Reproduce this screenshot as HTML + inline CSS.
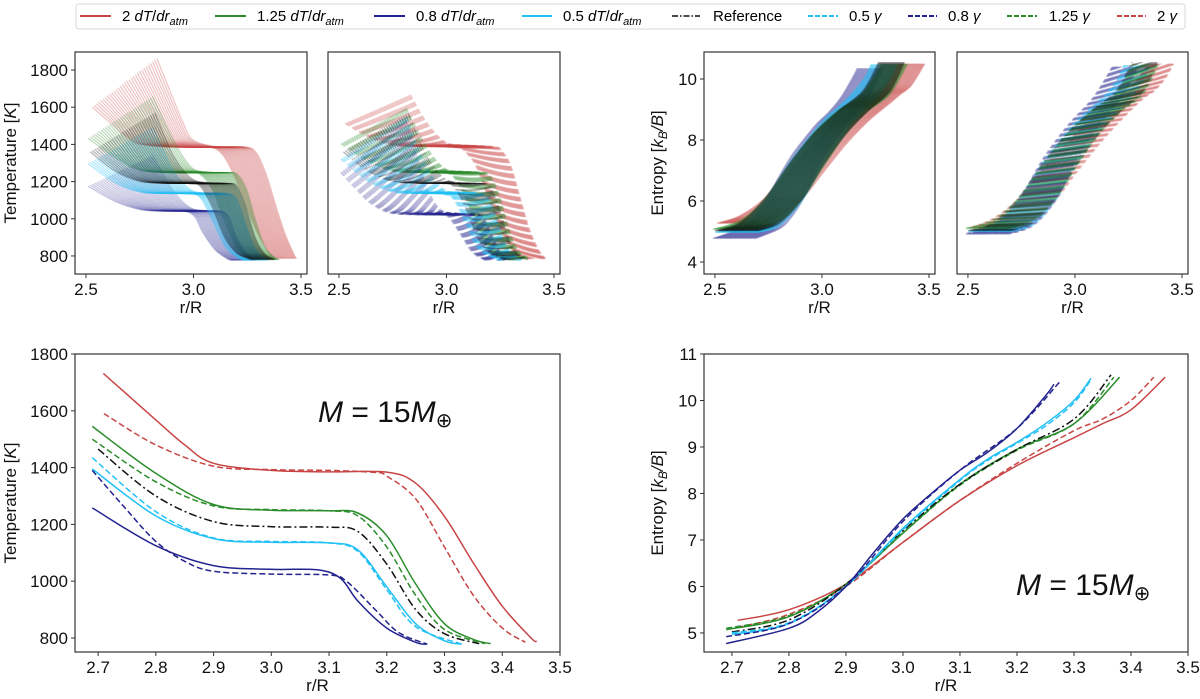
<!DOCTYPE html>
<html><head><meta charset="utf-8"><style>
html,body{margin:0;padding:0;background:#fff;}
svg{display:block;font-family:"Liberation Sans","DejaVu Sans",sans-serif;}
</style></head><body>
<svg id="fig" width="1200" height="699" viewBox="0 0 1200 699" xmlns="http://www.w3.org/2000/svg">
<g id="legend">
<rect x="76" y="4" width="1109" height="25" rx="3" fill="#fff" stroke="#d8d8d8"/>
<g><line x1="80" y1="16" x2="111" y2="16" stroke="#c94545" stroke-width="2"/><text x="122" y="21" font-size="15">2 <tspan font-style="italic">dT</tspan>/<tspan font-style="italic">dr</tspan><tspan font-size="11" font-style="italic" dy="4">atm</tspan></text></g>
<g><line x1="215" y1="16" x2="246" y2="16" stroke="#2a8c2a" stroke-width="2"/><text x="257" y="21" font-size="15">1.25 <tspan font-style="italic">dT</tspan>/<tspan font-style="italic">dr</tspan><tspan font-size="11" font-style="italic" dy="4">atm</tspan></text></g>
<g><line x1="374" y1="16" x2="405" y2="16" stroke="#23238f" stroke-width="2"/><text x="416" y="21" font-size="15">0.8 <tspan font-style="italic">dT</tspan>/<tspan font-style="italic">dr</tspan><tspan font-size="11" font-style="italic" dy="4">atm</tspan></text></g>
<g><line x1="522" y1="16" x2="552" y2="16" stroke="#22c0f5" stroke-width="2"/><text x="563" y="21" font-size="15">0.5 <tspan font-style="italic">dT</tspan>/<tspan font-style="italic">dr</tspan><tspan font-size="11" font-style="italic" dy="4">atm</tspan></text></g>
<g><line x1="672" y1="16" x2="700" y2="16" stroke="#111" stroke-width="1.5" stroke-dasharray="6,2,1.5,2"/><text x="713" y="21" font-size="15">Reference</text></g>
<g><line x1="808" y1="16" x2="838" y2="16" stroke="#22c0f5" stroke-width="2" stroke-dasharray="5,2"/><text x="849" y="21" font-size="15">0.5 <tspan font-style="italic">γ</tspan></text></g>
<g><line x1="908" y1="16" x2="937" y2="16" stroke="#23238f" stroke-width="2" stroke-dasharray="5,2"/><text x="948" y="21" font-size="15">0.8 <tspan font-style="italic">γ</tspan></text></g>
<g><line x1="1007" y1="16" x2="1037" y2="16" stroke="#2a8c2a" stroke-width="2" stroke-dasharray="5,2"/><text x="1049" y="21" font-size="15">1.25 <tspan font-style="italic">γ</tspan></text></g>
<g><line x1="1117" y1="16" x2="1146" y2="16" stroke="#c94545" stroke-width="2" stroke-dasharray="5,2"/><text x="1157" y="21" font-size="15">2 <tspan font-style="italic">γ</tspan></text></g>
</g>
</svg>
<script>
// ---- Temperature data (bottom-left panel, M = 15 M_earth) ----
const tRedSolidR   = [2.71,2.72,2.8,2.85,2.9,3.0,3.1,3.2,3.25,3.3,3.35,3.4,3.45,3.46];
const tRedSolidT   = [1730,1712,1568,1480,1415,1390,1385,1384,1345,1228,1064,912,800,788];
const tRedDashR    = [2.71,2.8,2.9,3.0,3.1,3.18,3.2,3.25,3.3,3.35,3.4,3.44];
const tRedDashT    = [1590,1480,1405,1393,1390,1383,1370,1290,1120,950,835,785];
const tGreenSolidR = [2.69,2.8,2.9,3.0,3.1,3.15,3.2,3.25,3.3,3.35,3.38];
const tGreenSolidT = [1545,1380,1270,1250,1248,1240,1160,990,850,795,780];
const tGreenDashR  = [2.69,2.8,2.9,3.0,3.1,3.15,3.2,3.25,3.3,3.37];
const tGreenDashT  = [1500,1350,1265,1252,1248,1230,1120,950,830,780];
const tRefR        = [2.7,2.8,2.9,3.0,3.1,3.15,3.2,3.25,3.3,3.36];
const tRefT        = [1465,1300,1210,1192,1190,1175,1060,900,815,780];
const tCyanSolidR  = [2.69,2.8,2.9,3.0,3.1,3.15,3.2,3.25,3.3,3.33];
const tCyanSolidT  = [1395,1230,1150,1137,1135,1110,980,850,790,778];
const tCyanDashR   = [2.69,2.8,2.9,3.0,3.1,3.15,3.2,3.25,3.33];
const tCyanDashT   = [1435,1245,1152,1140,1135,1105,970,840,778];
const tNavySolidR  = [2.69,2.8,2.9,3.0,3.08,3.12,3.15,3.2,3.25,3.27];
const tNavySolidT  = [1258,1125,1055,1042,1040,1010,930,835,785,778];
const tNavyDashR   = [2.69,2.75,2.8,2.85,2.9,3.0,3.1,3.13,3.18,3.22,3.27];
const tNavyDashT   = [1390,1250,1140,1070,1035,1025,1022,1000,900,820,778];
// ---- Entropy data (bottom-right panel) ----
const sNavySolidR  = [2.69,2.8,2.85,2.9,2.95,3.0,3.05,3.1,3.15,3.2,3.25,3.265];
const sNavySolidS  = [4.77,5.1,5.45,6.0,6.75,7.45,8.0,8.5,8.9,9.4,10.1,10.35];
const sNavyDashR   = [2.69,2.8,2.9,3.0,3.1,3.2,3.275];
const sNavyDashS   = [4.92,5.2,6.0,7.4,8.5,9.4,10.4];
const sCyanSolidR  = [2.7,2.8,2.9,3.0,3.1,3.15,3.2,3.25,3.3,3.33];
const sCyanSolidS  = [4.97,5.2,6.0,7.25,8.3,8.75,9.1,9.5,10.0,10.48];
const sCyanDashR   = [2.7,2.8,2.9,3.0,3.1,3.15,3.2,3.25,3.3,3.33];
const sCyanDashS   = [5.0,5.22,6.0,7.22,8.28,8.72,9.08,9.45,9.95,10.45];
const sRefR        = [2.7,2.8,2.9,3.0,3.1,3.2,3.3,3.365];
const sRefS        = [5.02,5.28,6.05,7.2,8.2,8.95,9.6,10.55];
const sGreenSolidR = [2.69,2.8,2.9,3.0,3.1,3.2,3.3,3.38];
const sGreenSolidS = [5.07,5.35,6.05,7.15,8.2,8.95,9.5,10.5];
const sGreenDashR  = [2.69,2.8,2.9,3.0,3.1,3.2,3.3,3.37];
const sGreenDashS  = [5.1,5.37,6.05,7.15,8.18,8.93,9.5,10.5];
const sRedSolidR   = [2.71,2.8,2.9,3.0,3.1,3.2,3.3,3.35,3.4,3.46];
const sRedSolidS   = [5.27,5.5,6.05,6.95,7.85,8.6,9.2,9.5,9.8,10.5];
const sRedDashR    = [2.71,2.8,2.9,3.0,3.1,3.2,3.3,3.35,3.4,3.44];
const sRedDashS    = [5.12,5.4,6.0,6.95,7.85,8.65,9.35,9.6,10.0,10.5];
// ---- Ticks ----
const topXTicks = [2.5,3.0,3.5];
const topTTicks = [800,1000,1200,1400,1600,1800];
const topSTicks = [4,6,8,10];
const botXTicks = [2.7,2.8,2.9,3.0,3.1,3.2,3.3,3.4,3.5];
const botTTicks = [800,1000,1200,1400,1600,1800];
const botSTicks = [5,6,7,8,9,10,11];
// ---- Ensemble spread (top panels): [first, last] member offsets ----
const ensCount = 31;
const tLeftShift  = [-0.18, 0.12];
const tRightShift = [-0.09, 0.02];
const tExcessScale = [0.62, 1.38];
const sLeftShift  = [-0.2, 0.0];
const sRightShift = [-0.1, 0.02];

const RED="#c94545",GREEN="#2a8c2a",NAVY="#23238f",CYAN="#22c0f5",BLACK="#111";
const NS="http://www.w3.org/2000/svg";
const svg=document.getElementById('fig');
function el(tag,attrs,parent){const e=document.createElementNS(NS,tag);for(const k in attrs)e.setAttribute(k,attrs[k]);(parent||svg).appendChild(e);return e;}
function fmt(v,d){return v.toFixed(d);}
function makeAxes(name,box,dom){
  const g=el('g',{});
  
  
  const sx=v=>box.x0+(v-dom.x0)/(dom.x1-dom.x0)*(box.x1-box.x0);
  const sy=v=>box.y1-(v-dom.y0)/(dom.y1-dom.y0)*(box.y1-box.y0);
  const id='clip'+name;
  const cp=el('clipPath',{id:id},g);el('rect',{x:box.x0,y:box.y0,width:box.x1-box.x0,height:box.y1-box.y0},cp);
  const plot=el('g',{'clip-path':'url(#'+id+')'},g);
  
  
  return {g,plot,sx,sy,box};
}
function frame(ax,xt,xd,yt,yd,xlabel,ylabel,fs){
  const g=ax.g,b=ax.box;
  const fr=el('rect',{x:b.x0,y:b.y0,width:b.x1-b.x0,height:b.y1-b.y0,fill:'none',stroke:'#333','stroke-width':1.2},g);
  
  
  xt.forEach(v=>{const x=ax.sx(v);el('line',{x1:x,x2:x,y1:b.y1,y2:b.y1+4,stroke:'#333'},g);
    const t=el('text',{x:x,y:b.y1+21,'font-size':fs,'text-anchor':'middle',fill:'#111'},g);t.textContent=fmt(v,xd);
    
    });
  if(yt)yt.forEach(v=>{const y=ax.sy(v);el('line',{x1:b.x0-4,x2:b.x0,y1:y,y2:y,stroke:'#333'},g);
    const t=el('text',{x:b.x0-7,y:y+6,'font-size':fs,'text-anchor':'end',fill:'#111'},g);t.textContent=fmt(v,yd);
    
    });
  const xl=el('text',{x:(b.x0+b.x1)/2,y:b.y1+39,'font-size':17,'text-anchor':'middle',fill:'#111'},g);xl.textContent=xlabel;
  
  
  if(ylabel){const yl=el('text',{transform:'translate('+ylabel.x+','+(b.y0+b.y1)/2+') rotate(-90)','font-size':17,'text-anchor':'middle',fill:'#111'},g);
    yl.innerHTML=ylabel.html;
    
    }
}
function pathD(ax,R,V,rf,tf){
  const pts=R.map((r,i)=>[ax.sx(rf?rf(r):r),ax.sy(tf?tf(V[i]):V[i])]);
  let d='M'+pts[0][0].toFixed(1)+','+pts[0][1].toFixed(1);
  for(let i=0;i<pts.length-1;i++){
    const p0=pts[Math.max(0,i-1)],p1=pts[i],p2=pts[i+1],p3=pts[Math.min(pts.length-1,i+2)];
    const c1=[p1[0]+(p2[0]-p0[0])/6,p1[1]+(p2[1]-p0[1])/6],c2=[p2[0]-(p3[0]-p1[0])/6,p2[1]-(p3[1]-p1[1])/6];
    d+='C'+c1[0].toFixed(1)+','+c1[1].toFixed(1)+' '+c2[0].toFixed(1)+','+c2[1].toFixed(1)+' '+p2[0].toFixed(1)+','+p2[1].toFixed(1);
  }
  return d;
}
function line(ax,name,R,V,color,dash,w,op,rf,tf){
  const p=el('path',{d:pathD(ax,R,V,rf,tf),fill:'none',stroke:color,'stroke-width':w||1.5,'stroke-opacity':op==null?1:op},ax.plot);
  if(dash)p.setAttribute('stroke-dasharray',dash);
  
  
  return p;
}
const DASH='6,3',DD='8,3,2,3';
const topDomX={x0:2.449,x1:3.528};
const ax1=makeAxes('temp-ensemble-dtdr',{x0:75,x1:307,y0:52,y1:274},{...topDomX,y0:703,y1:1897});
const ax2=makeAxes('temp-ensemble-gamma',{x0:328,x1:560,y0:52,y1:274},{...topDomX,y0:703,y1:1897});
const ax3=makeAxes('entropy-ensemble-dtdr',{x0:704,x1:935,y0:52,y1:274},{...topDomX,y0:3.607,y1:10.885});
const ax4=makeAxes('entropy-ensemble-gamma',{x0:957,x1:1188,y0:52,y1:274},{...topDomX,y0:3.607,y1:10.885});
function lerp(a,f){return a[0]+(a[1]-a[0])*f;}
function warp(R,dl,dr){const r0=R[0],r1=R[R.length-1];return r=>r+dl+(dr-dl)*(r-r0)/(r1-r0);}
function tEns(ax,name,R,T,plateau,color,dash,op,w){
  for(let k=0;k<ensCount;k++){const f=k/(ensCount-1);
    const s=lerp(tExcessScale,f);
    line(ax,name,R,T,color,dash,w,op,warp(R,lerp(tLeftShift,f),lerp(tRightShift,f)),v=>v>plateau?plateau+(v-plateau)*s:v);}
}
function sEns(ax,name,R,S,color,dash,op,w){
  for(let k=0;k<ensCount;k++){const f=k/(ensCount-1);
    line(ax,name,R,S,color,dash,w,op,warp(R,lerp(sLeftShift,f),lerp(sRightShift,f)));}
}
tEns(ax1,'ens-red',tRedSolidR,tRedSolidT,1385,RED,null,0.3,1.3);
tEns(ax1,'ens-green',tGreenSolidR,tGreenSolidT,1250,GREEN,null,0.3,1.3);
tEns(ax1,'ens-navy',tNavySolidR,tNavySolidT,1040,NAVY,null,0.25,1.3);
tEns(ax1,'ens-cyan',tCyanSolidR,tCyanSolidT,1135,CYAN,null,0.35,1.3);
tEns(ax1,'ens-reference',tRefR,tRefT,1190,BLACK,null,0.3,1.3);
tEns(ax2,'ens-red-gamma',tRedDashR,tRedDashT,1390,RED,'5,3',0.3,2.2);
tEns(ax2,'ens-green-gamma',tGreenDashR,tGreenDashT,1250,GREEN,'5,3',0.3,2.2);
tEns(ax2,'ens-navy-gamma',tNavyDashR,tNavyDashT,1022,NAVY,'5,3',0.25,2.2);
tEns(ax2,'ens-cyan-gamma',tCyanDashR,tCyanDashT,1138,CYAN,'5,3',0.3,2.2);
tEns(ax2,'ens-reference',tRefR,tRefT,1190,BLACK,DD,0.3,1.3);
sEns(ax3,'ens-red',sRedSolidR,sRedSolidS,RED,null,0.35,1.5);
sEns(ax3,'ens-navy',sNavySolidR,sNavySolidS,NAVY,null,0.3,1.5);
sEns(ax3,'ens-cyan',sCyanSolidR,sCyanSolidS,CYAN,null,0.4,1.5);
sEns(ax3,'ens-green',sGreenSolidR,sGreenSolidS,GREEN,null,0.35,1.5);
sEns(ax3,'ens-reference',sRefR,sRefS,BLACK,null,0.35,1.5);
sEns(ax4,'ens-red-gamma',sRedDashR,sRedDashS,RED,'4,3',0.3,2);
sEns(ax4,'ens-navy-gamma',sNavyDashR,sNavyDashS,NAVY,'4,3',0.3,2);
sEns(ax4,'ens-cyan-gamma',sCyanDashR,sCyanDashS,CYAN,'4,3',0.35,2);
sEns(ax4,'ens-green-gamma',sGreenDashR,sGreenDashS,GREEN,'4,3',0.3,2);
sEns(ax4,'ens-reference',sRefR,sRefS,BLACK,DD,0.3,1.3);
frame(ax1,topXTicks,1,topTTicks,0,'r/R',{x:16,html:'Temperature [<tspan font-style="italic">K</tspan>]'},17);
frame(ax2,topXTicks,1,null,0,'r/R',null,17);
frame(ax3,topXTicks,1,topSTicks,0,'r/R',{x:663,html:'Entropy [<tspan font-style="italic">k<tspan font-size="12" dy="4">B</tspan><tspan dy="-4">/B</tspan></tspan>]'},17);
frame(ax4,topXTicks,1,null,0,'r/R',null,17);
const ax5=makeAxes('temp-15me',{x0:75,x1:560,y0:354,y1:652},{x0:2.660,x1:3.5,y0:750.7,y1:1800});
const ax6=makeAxes('entropy-15me',{x0:704,x1:1188,y0:354,y1:652},{x0:2.651,x1:3.5,y0:4.59,y1:11});
line(ax5,'temp-red-2dtdr',tRedSolidR,tRedSolidT,RED);
line(ax5,'temp-red-2gamma',tRedDashR,tRedDashT,RED,DASH);
line(ax5,'temp-green-1.25dtdr',tGreenSolidR,tGreenSolidT,GREEN);
line(ax5,'temp-green-1.25gamma',tGreenDashR,tGreenDashT,GREEN,DASH);
line(ax5,'temp-reference',tRefR,tRefT,BLACK,DD);
line(ax5,'temp-cyan-0.5dtdr',tCyanSolidR,tCyanSolidT,CYAN);
line(ax5,'temp-cyan-0.5gamma',tCyanDashR,tCyanDashT,CYAN,DASH);
line(ax5,'temp-navy-0.8dtdr',tNavySolidR,tNavySolidT,NAVY);
line(ax5,'temp-navy-0.8gamma',tNavyDashR,tNavyDashT,NAVY,DASH);
line(ax6,'entropy-red-2dtdr',sRedSolidR,sRedSolidS,RED);
line(ax6,'entropy-red-2gamma',sRedDashR,sRedDashS,RED,DASH);
line(ax6,'entropy-green-1.25dtdr',sGreenSolidR,sGreenSolidS,GREEN);
line(ax6,'entropy-green-1.25gamma',sGreenDashR,sGreenDashS,GREEN,DASH);
line(ax6,'entropy-reference',sRefR,sRefS,BLACK,DD);
line(ax6,'entropy-cyan-0.5dtdr',sCyanSolidR,sCyanSolidS,CYAN);
line(ax6,'entropy-cyan-0.5gamma',sCyanDashR,sCyanDashS,CYAN,DASH);
line(ax6,'entropy-navy-0.8dtdr',sNavySolidR,sNavySolidS,NAVY);
line(ax6,'entropy-navy-0.8gamma',sNavyDashR,sNavyDashS,NAVY,DASH);
frame(ax5,botXTicks,1,botTTicks,0,'r/R',{x:16,html:'Temperature [<tspan font-style="italic">K</tspan>]'},17);
frame(ax6,botXTicks,1,botSTicks,0,'r/R',{x:663,html:'Entropy [<tspan font-style="italic">k<tspan font-size="12" dy="4">B</tspan><tspan dy="-4">/B</tspan></tspan>]'},17);
function massLabel(x,y,name){
  const t=el('text',{x:x,y:y,'font-size':30,fill:'#111'});
  t.innerHTML='<tspan font-style="italic">M</tspan> = 15<tspan font-style="italic">M</tspan><tspan font-size="20" dy="5">⊕</tspan>';
  
  
}
massLabel(318,422,'mass-annotation-temp');
massLabel(1016,595,'mass-annotation-entropy');
</script>
</body></html>
